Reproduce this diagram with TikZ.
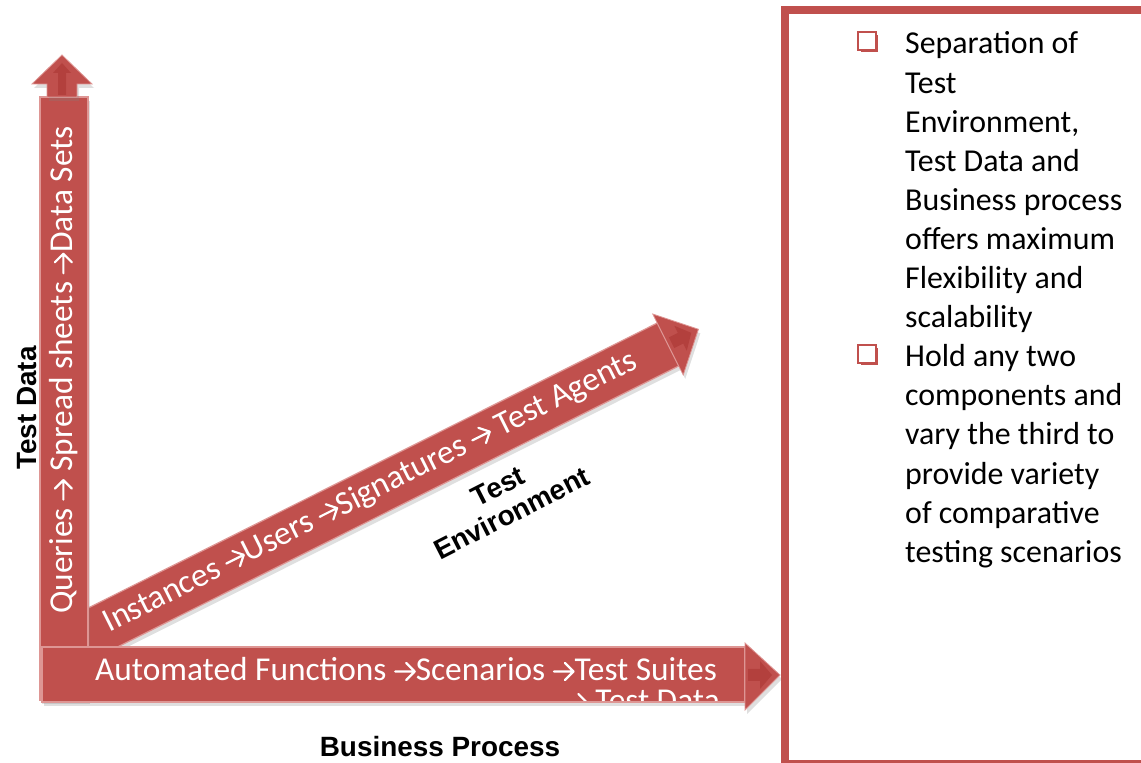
\documentclass[tikz,border=0pt]{standalone}
\usepackage{fontspec}
\setmainfont{Carlito}
\newfontfamily\arialfont{Liberation Sans}
\usetikzlibrary{shadows}
\definecolor{acc}{RGB}{192,80,77}
\definecolor{accl}{RGB}{222,150,148}
\definecolor{accd}{RGB}{165,45,42}
\newcommand{\rarr}{\tikz[baseline=0pt]{\draw[white, line width=2.2bp, line cap=round, line join=round] (1.5bp,9.5bp) -- (21bp,9.5bp) (12.5bp,1bp) -- (21bp,9.5bp) -- (12.5bp,18bp);}}
\begin{document}
\begin{tikzpicture}[x=1bp,y=1bp,
 armbody/.style={fill=acc, draw=accl, line width=1.2bp},
 armhead/.style={fill=acc, draw=accl, line width=0.8bp},
 armshadow/.style={drop shadow={opacity=0.25, shadow xshift=2bp, shadow yshift=-4bp}},
 innerhead/.style={fill=accd, opacity=0.45},
 armtext/.style={text=white, font=\fontsize{33.5}{33.5}\selectfont, inner sep=0pt},
 axislabel/.style={font=\arialfont\bfseries\fontsize{28}{30}\selectfont, align=center, inner sep=0pt, text=black},
 boxtext/.style={font=\fontsize{32}{32}\selectfont, anchor=base west, inner sep=0pt},
 bulletbox/.style={draw=acc, fill=white, line width=1.6bp, minimum size=17.5bp, inner sep=0pt,
   drop shadow={shadow xshift=2.5bp, shadow yshift=-2.5bp, fill=acc, opacity=1}},
]
\useasboundingbox (0,0) rectangle (1141,763);

% diagonal arrow (Test Environment)
\begin{scope}[shift={(668,418.5)}, rotate=26.6]
  \path[armbody, armshadow] (-660,-24) rectangle (0,24);
  \path[armhead, armshadow] (0,-34) -- (34,0) -- (0,34) -- cycle;
  \fill[innerhead] (4,-6) -- (14,-6) -- (14,-14) -- (26,0) -- (14,14) -- (14,6) -- (4,6) -- cycle;
  \node[armtext, rotate=26.6] (envtext) at (-332,1) {Instances \rarr Users \rarr Signatures \rarr\ Test Agents};
\end{scope}

% vertical arrow (Test Data)
\path[armbody, armshadow] (40,63) rectangle (88,666);
\path[armhead, armshadow] (47,666) -- (47,679) -- (32,679) -- (62,708) -- (92,679) -- (77,679) -- (77,666) -- cycle;
\fill[innerhead] (58,668) -- (58,690) -- (53,690) -- (62,700) -- (71,690) -- (66,690) -- (66,668) -- cycle;
\node[armtext, rotate=90] (datatext) at (64,393) {Queries \rarr\ Spread sheets \rarr Data Sets};

% horizontal arrow (Business Process)
\path[armbody, armshadow] (42,61) rectangle (745,116);
\path[armhead, armshadow] (745,120) -- (780,88) -- (745,53) -- cycle;
\fill[innerhead] (748,82) -- (760,82) -- (760,74) -- (772,88) -- (760,102) -- (760,94) -- (748,94) -- cycle;
\node[armtext, anchor=base] (proctext) at (406,82) {Automated Functions \rarr Scenarios \rarr Test Suites};
\begin{scope}
  \clip (43,62) rectangle (744,115);
  \node[armtext, anchor=base west] (proctext2) at (566,51) {\rarr\ Test Data};
\end{scope}

% axis labels
\node[axislabel, rotate=90] (tdlabel) at (27,355) {Test Data};
\node[axislabel] (bplabel) at (440,16) {Business Process};
\node[axislabel, rotate=27] (telabel) at (505,263) {Test\\Environment};

% frame
\draw[acc, line width=8bp] (785,-1) rectangle (1170,753);

% bullets
\node[bulletbox] (bullet1) at (867,722) {};
\node[bulletbox] (bullet2) at (867,409) {};
\foreach \t [count=\i from 0] in {Separation of, Test, {Environment,}, Test Data and, Business process, offers maximum, Flexibility and, scalability, Hold any two, components and, vary the third to, provide variety, of comparative, testing scenarios}
  { \node[boxtext] (line\i) at (905, 709-39.1*\i) {\t}; }
\end{tikzpicture}
\end{document}
